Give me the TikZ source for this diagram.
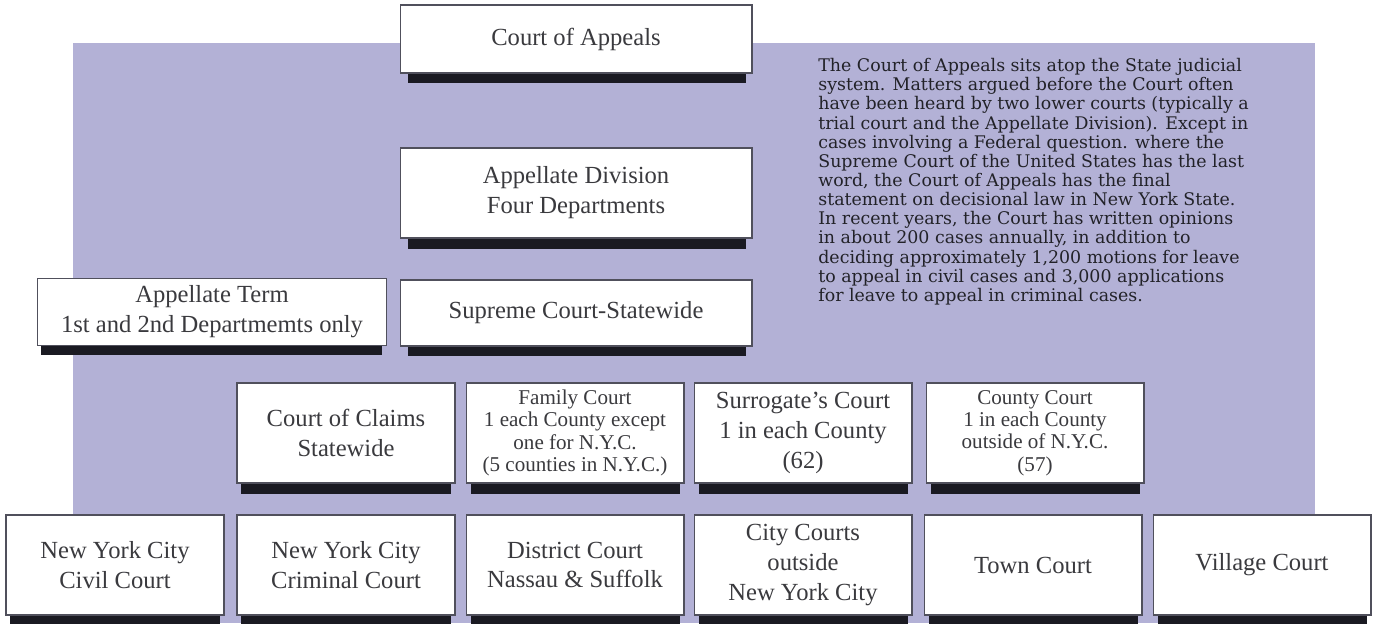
\documentclass[tikz,border=0pt]{standalone}
\usepackage{fontspec}
\setmainfont{Liberation Serif}
\newfontfamily\notefont{DejaVu Serif}
\usepackage{tikz}
\usepackage{xcolor}
\definecolor{panel}{RGB}{179,177,214}
\definecolor{edge}{RGB}{80,80,92}
\definecolor{ink}{RGB}{58,58,62}
\definecolor{noteink}{RGB}{34,34,40}
\definecolor{bar}{RGB}{26,26,34}

\begin{document}
\begin{tikzpicture}[x=0.02cm,y=-0.02cm,
  court/.style={draw=edge,line width=0.6pt,fill=white,text=ink,align=center,inner sep=0pt,font=\fontsize{14}{17}\selectfont},
  upper/.style={court,minimum width=7.04cm},
  lower/.style={court,minimum width=4.36cm,minimum height=2cm},
  tight/.style={font=\fontsize{12}{12.8}\selectfont},
  bar/.style={fill=bar}]
\useasboundingbox (0,0) rectangle (1375,623);
\fill[white] (0,0) rectangle (1375,623);
\fill[panel] (73,43) rectangle (1315,623);

\node [upper, minimum height=1.36cm] (appeals) at (576,39) {Court of Appeals};
\node [upper, minimum height=1.8cm] (appdiv) at (576,193) {Appellate Division\\Four Departments};
\node [court, minimum width=7.0cm, minimum height=1.34cm] (appterm) at (212,312) {Appellate Term\\1st and 2nd Departmemts only};
\node [upper, minimum height=1.32cm] (supreme) at (576,313) {Supreme Court-Statewide};

\node [lower] (claims) at (346,433) {Court of Claims\\Statewide};
\node [lower, tight] (family) at (575,433) {Family Court\\1 each County except\\one for N.Y.C.\\(5 counties in N.Y.C.)};
\node [lower] (surrogate) at (803,433) {Surrogate's Court\\1 in each County\\(62)};
\node [lower, tight] (county) at (1035,433) {County Court\\1 in each County\\outside of N.Y.C.\\(57)};

\node [lower] (civil) at (115,565) {New York City\\Civil Court};
\node [lower] (criminal) at (346,565) {New York City\\Criminal Court};
\node [lower] (district) at (575,565) {District Court\\Nassau \& Suffolk};
\node [lower] (citycourts) at (803,565) {City Courts\\outside\\New York City};
\node [lower] (town) at (1033,565) {Town Court};
\node [lower] (village) at (1262,565) {Village Court};

\fill [bar] ([xshift=0.16cm]appeals.south west) rectangle ([xshift=-0.14cm,yshift=-0.18cm]appeals.south east);
\fill [bar] ([xshift=0.16cm]appdiv.south west) rectangle ([xshift=-0.14cm,yshift=-0.2cm]appdiv.south east);
\fill [bar] ([xshift=0.08cm]appterm.south west) rectangle ([xshift=-0.1cm,yshift=-0.18cm]appterm.south east);
\fill [bar] ([xshift=0.16cm]supreme.south west) rectangle ([xshift=-0.14cm,yshift=-0.18cm]supreme.south east);
\fill [bar] ([xshift=0.1cm]claims.south west) rectangle ([xshift=-0.1cm,yshift=-0.2cm]claims.south east);
\fill [bar] ([xshift=0.1cm]family.south west) rectangle ([xshift=-0.1cm,yshift=-0.2cm]family.south east);
\fill [bar] ([xshift=0.1cm]surrogate.south west) rectangle ([xshift=-0.1cm,yshift=-0.2cm]surrogate.south east);
\fill [bar] ([xshift=0.1cm]county.south west) rectangle ([xshift=-0.1cm,yshift=-0.2cm]county.south east);
\fill [bar] ([xshift=0.1cm]civil.south west) rectangle ([xshift=-0.1cm,yshift=-0.2cm]civil.south east);
\fill [bar] ([xshift=0.1cm]criminal.south west) rectangle ([xshift=-0.1cm,yshift=-0.2cm]criminal.south east);
\fill [bar] ([xshift=0.1cm]district.south west) rectangle ([xshift=-0.1cm,yshift=-0.2cm]district.south east);
\fill [bar] ([xshift=0.1cm]citycourts.south west) rectangle ([xshift=-0.1cm,yshift=-0.2cm]citycourts.south east);
\fill [bar] ([xshift=0.1cm]town.south west) rectangle ([xshift=-0.1cm,yshift=-0.2cm]town.south east);
\fill [bar] ([xshift=0.1cm]village.south west) rectangle ([xshift=-0.1cm,yshift=-0.2cm]village.south east);

\node [anchor=north west, text=noteink, align=left, inner sep=0pt, font=\notefont\fontsize{9.9}{10.9}\selectfont] (note) at (818,58)
  {The Court of Appeals sits atop the State judicial\\
   system. Matters argued before the Court often\\
   have been heard by two lower courts (typically a\\
   trial court and the Appellate Division). Except in\\
   cases involving a Federal question. where the\\
   Supreme Court of the United States has the last\\
   word, the Court of Appeals has the final\\
   statement on decisional law in New York State.\\
   In recent years, the Court has written opinions\\
   in about 200 cases annually, in addition to\\
   deciding approximately 1,200 motions for leave\\
   to appeal in civil cases and 3,000 applications\\
   for leave to appeal in criminal cases.};
\end{tikzpicture}
\end{document}
